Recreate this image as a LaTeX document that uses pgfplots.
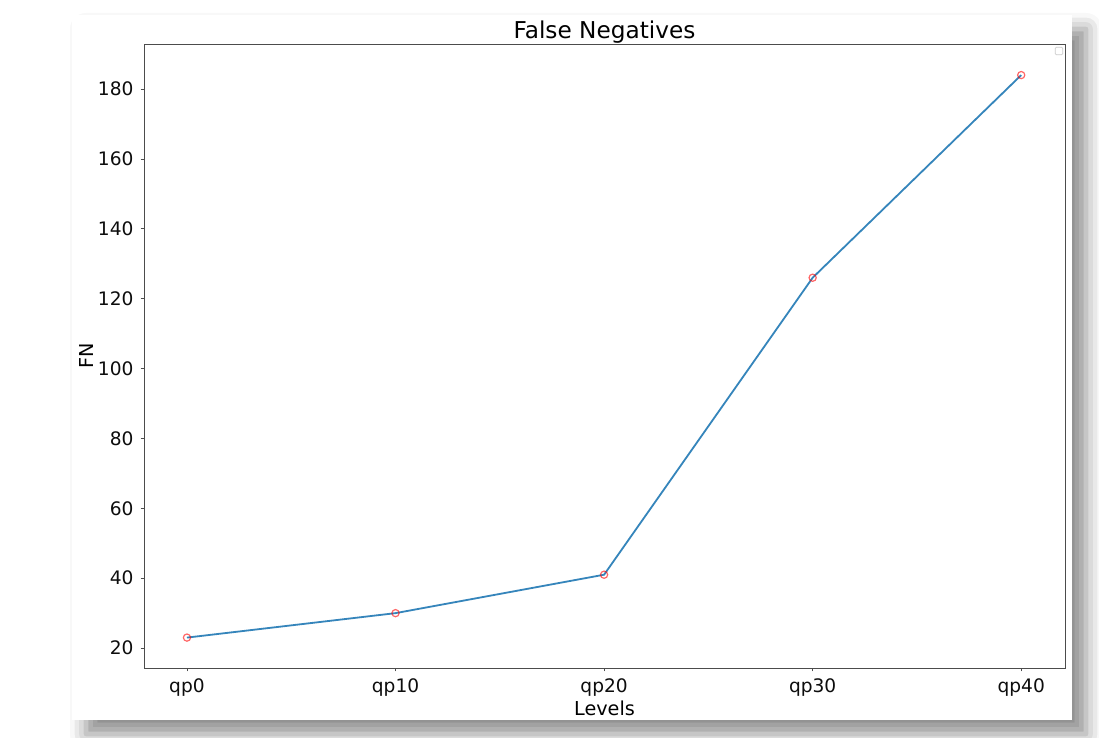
\documentclass[border=0pt]{standalone}
\usepackage{fontspec}
\setmainfont{DejaVu Sans}
\usepackage{pgfplots}
\pgfplotsset{compat=1.18}
\usetikzlibrary{shadows.blur}

\definecolor{mplblue}{HTML}{1F77B4}

\begin{document}
\begin{tikzpicture}
  % page area
  \useasboundingbox (0,0) rectangle (549.5pt,369pt);
  % figure canvas with its drop shadow
  \fill[white, blur shadow={shadow xshift=7pt, shadow yshift=-7pt,
        shadow blur radius=8pt, shadow opacity=45}]
    (36pt,9pt) rectangle (536pt,361.5pt);

  \begin{axis}[
      at={(72pt,35pt)}, anchor=south west,
      scale only axis,
      width=460.5pt, height=312pt,
      xmin=-0.206, xmax=4.21,
      ymin=14.3, ymax=192.9,
      xtick={0,1,2,3,4},
      xticklabels={qp0,qp10,qp20,qp30,qp40},
      ytick={20,40,...,180},
      tick align=outside,
      major tick length=1.75pt,
      every tick/.style={black!70, line width=0.4pt},
      axis line style={black!70, line width=0.4pt},
      xtick pos=bottom, ytick pos=left,
      /pgf/number format/assume math mode=true,
      tick label style={font=\fontsize{9.3}{11}\selectfont, text=black!95},
      title={False Negatives},
      title style={at={(0.5,1)}, anchor=base, yshift=-3.5pt,
                   font=\fontsize{11.6}{14}\selectfont},
      xlabel={Levels},
      ylabel={FN},
      label style={font=\fontsize{9.6}{12}\selectfont},
      xlabel style={yshift=4.5pt},
      ylabel style={yshift=-4.5pt},
    ]
    \addplot[mplblue!90!white, line width=0.9pt,
             mark=o, mark size=1.8pt,
             mark options={draw=red, draw opacity=0.6, line width=0.6pt}]
      coordinates {(0,23) (1,30) (2,41) (3,126) (4,184)};
  \end{axis}

  % empty legend frame in the upper right corner
  \draw[black!20, line width=0.4pt, rounded corners=0.6pt]
    (527.6pt,341.6pt) rectangle (531.4pt,345.4pt);
\end{tikzpicture}
\end{document}
